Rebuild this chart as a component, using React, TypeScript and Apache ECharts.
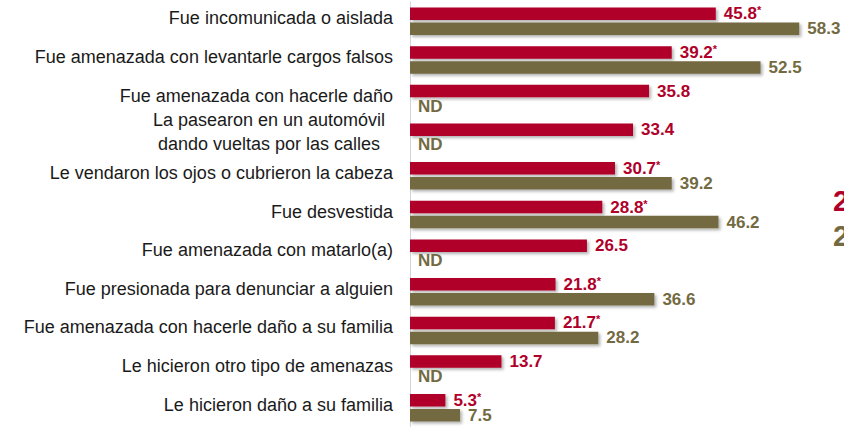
import React, { useEffect, useRef } from "react";
import * as echarts from "echarts";

const categories = [
  "Fue incomunicada o aislada",
  "Fue amenazada con levantarle cargos falsos",
  "Fue amenazada con hacerle daño",
  "La pasearon en un automóvil\ndando vueltas por las calles",
  "Le vendaron los ojos o cubrieron la cabeza",
  "Fue desvestida",
  "Fue amenazada con matarlo(a)",
  "Fue presionada para denunciar a alguien",
  "Fue amenazada con hacerle daño a su familia",
  "Le hicieron otro tipo de amenazas",
  "Le hicieron daño a su familia",
];
const recentValues = [45.8, 39.2, 35.8, 33.4, 30.7, 28.8, 26.5, 21.8, 21.7, 13.7, 5.3];
const recentSignificant = [true, true, false, false, true, true, false, true, true, false, true];
const previousValues: (number | null)[] = [58.3, 52.5, null, null, 39.2, 46.2, null, 36.6, 28.2, null, 7.5];
const legendYears = ["2021", "2016"];

const RED = "#B0002A";
const OLIVE = "#736A42";
const FONT = "Liberation Sans, Arial, sans-serif";

export default function App() {
  const ref = useRef<HTMLDivElement>(null);
  useEffect(() => {
    if (!ref.current) return;
    const chart = echarts.init(ref.current, null, { renderer: "svg" });
    const shadow = {
      shadowBlur: 3,
      shadowOffsetX: 2,
      shadowOffsetY: 2,
      shadowColor: "rgba(0,0,0,0.3)",
    };
    const labelText = { color: "#1a1a1a", fontSize: 18, fontFamily: FONT };
    chart.setOption({
      animation: false,
      backgroundColor: "#ffffff",
      grid: { left: 410, right: 0, top: 2, bottom: -5, containLabel: false },
      xAxis: { type: "value", min: 0, max: 65, show: false },
      yAxis: [
        {
          type: "category",
          inverse: true,
          data: categories,
          axisLine: { show: true, lineStyle: { color: "#d4d4d4", width: 1 } },
          axisTick: { show: false },
          axisLabel: {
            margin: 17,
            formatter: (v: string) => {
              const lines = v.split("\n");
              if (lines.length === 1) return `{a|${v}}`;
              return `{b|${lines[0]}}`;
            },
            rich: {
              a: { ...labelText, padding: [0, 0, 6, 0] },
              b: { ...labelText, width: 248, align: "center", padding: [0, 0, 35, 0] },
            },
          },
          splitLine: { show: false },
        },
        {
          type: "category",
          inverse: true,
          position: "left",
          data: categories,
          axisLine: { show: false },
          axisTick: { show: false },
          axisLabel: {
            margin: 17,
            formatter: (v: string) => {
              const lines = v.split("\n");
              if (lines.length === 1) return "";
              return `{c|${lines[1]}}`;
            },
            rich: {
              c: { ...labelText, width: 248, align: "center", padding: [13, 0, 0, 0] },
            },
          },
          splitLine: { show: false },
        },
      ],
      series: [
        {
          type: "bar",
          name: legendYears[0],
          data: recentValues,
          barWidth: 12.5,
          barGap: "20%",
          itemStyle: { color: RED, ...shadow },
          label: {
            show: true,
            position: "right",
            distance: 8,
            formatter: (p: any) =>
              recentSignificant[p.dataIndex]
                ? `{v|${p.value.toFixed(1)}}{s|*}`
                : `{v|${p.value.toFixed(1)}}`,
            rich: {
              v: { color: RED, fontSize: 17, fontWeight: "bold", fontFamily: FONT },
              s: { color: RED, fontSize: 11, fontWeight: "bold", fontFamily: FONT, padding: [0, 0, 7, 0] },
            },
          },
        },
        {
          type: "bar",
          name: legendYears[1],
          data: previousValues.map((v) => (v === null ? 0 : v)),
          barWidth: 12.5,
          itemStyle: { color: OLIVE, ...shadow },
          label: {
            show: true,
            position: "right",
            distance: 8,
            color: OLIVE,
            fontSize: 17,
            fontWeight: "bold",
            fontFamily: FONT,
            formatter: (p: any) => {
              const v = previousValues[p.dataIndex];
              return v === null ? "ND" : v.toFixed(1);
            },
          },
        },
      ],
      graphic: [
        {
          type: "text",
          left: 833,
          top: 186,
          style: { text: legendYears[0], fill: RED, font: `bold 29px ${FONT}` },
        },
        {
          type: "text",
          left: 833,
          top: 221,
          style: { text: legendYears[1], fill: OLIVE, font: `bold 29px ${FONT}` },
        },
      ],
    });
    return () => chart.dispose();
  }, []);
  return (
    <div
      ref={ref}
      style={{ position: "fixed", left: 0, top: 0, width: 844, height: 427 }}
    />
  );
}
